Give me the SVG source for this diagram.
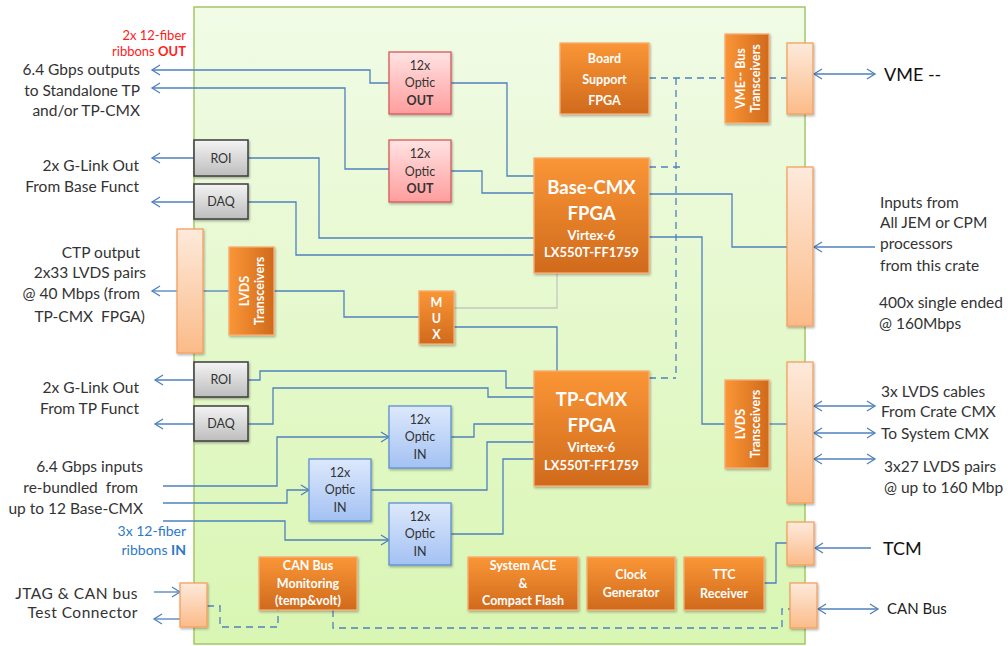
<svg xmlns="http://www.w3.org/2000/svg" width="1008" height="646" viewBox="0 0 1008 646">
<defs>
<linearGradient id="gBoard" x1="0" y1="0" x2="0" y2="1"><stop offset="0" stop-color="#f1fbe6"/><stop offset="1" stop-color="#d9f6b3"/></linearGradient>
<linearGradient id="gOr" x1="0" y1="0" x2="0" y2="1"><stop offset="0" stop-color="#fa9636"/><stop offset="1" stop-color="#d06a1d"/></linearGradient>
<linearGradient id="gOrH" x1="0" y1="0" x2="1" y2="0"><stop offset="0" stop-color="#fa9636"/><stop offset="1" stop-color="#d06a1d"/></linearGradient>
<linearGradient id="gPeach" x1="0" y1="0" x2="0" y2="1"><stop offset="0" stop-color="#fdeadb"/><stop offset="1" stop-color="#fbbb88"/></linearGradient>
<linearGradient id="gGray" x1="0" y1="0" x2="0" y2="1"><stop offset="0" stop-color="#f4f4f4"/><stop offset="1" stop-color="#bdbdbd"/></linearGradient>
<linearGradient id="gPink" x1="0" y1="0" x2="0" y2="1"><stop offset="0" stop-color="#ffe3e3"/><stop offset="1" stop-color="#ff9d9d"/></linearGradient>
<linearGradient id="gBlue" x1="0" y1="0" x2="0" y2="1"><stop offset="0" stop-color="#dde9fc"/><stop offset="1" stop-color="#a3c1f3"/></linearGradient>
<filter id="sh" x="-10%" y="-10%" width="130%" height="130%"><feDropShadow dx="1" dy="1.5" stdDeviation="1" flood-color="#000" flood-opacity="0.3"/></filter>
<marker id="ar" markerWidth="12" markerHeight="12" refX="9" refY="6" orient="auto-start-reverse" markerUnits="userSpaceOnUse"><path d="M1,1 L9,6 L1,11" fill="none" stroke="#4f81bd" stroke-width="1.3"/></marker>
</defs>
<style>
.bd{fill:url(#gBoard);stroke:#a4c866;stroke-width:1.5}
.ob{fill:url(#gOr);stroke:#f8ad72;stroke-width:1.3;filter:url(#sh)}
.obh{fill:url(#gOrH);stroke:#f8ad72;stroke-width:1.3;filter:url(#sh)}
.pc{fill:url(#gPeach);stroke:#f5a062;stroke-width:1.3;filter:url(#sh)}
.gy{fill:url(#gGray);stroke:#3c3c3c;stroke-width:1.5;filter:url(#sh)}
.pk{fill:url(#gPink);stroke:#d65a5a;stroke-width:1.3;filter:url(#sh)}
.bl{fill:url(#gBlue);stroke:#5f8fd3;stroke-width:1.3;filter:url(#sh)}
text{font-family:Lato,"Open Sans","Liberation Sans",sans-serif}
.w{fill:#fff;font-weight:bold;text-anchor:middle;font-size:12.5px}
.d{fill:#333;text-anchor:middle;font-size:12.5px}
.lab{fill:#333;font-size:15.5px}
.e{text-anchor:end}
.ln{fill:none;stroke:#4f81bd;stroke-width:1.3}
.ds{fill:none;stroke:#4f81bd;stroke-width:1.3;stroke-dasharray:7,5}
</style>
<rect class="bd" x="194" y="7" width="611" height="637"/>

<g id="connectors">
<path class="ln" d="M389,83 H370 V70 H152" marker-end="url(#ar)"/>
<path class="ln" d="M389,169 H345 V88 H152" marker-end="url(#ar)"/>
<path class="ln" d="M451,83 H507 V176 H534"/>
<path class="ln" d="M451,171 H482 V193 H534"/>
<path class="ln" d="M194,158 H152" marker-end="url(#ar)"/>
<path class="ln" d="M194,202 H152" marker-end="url(#ar)"/>
<path class="ln" d="M248,158 H319 V238 H534"/>
<path class="ln" d="M248,202 H296 V255 H534"/>
<path class="ln" d="M177,291 H152" marker-end="url(#ar)"/>
<path class="ln" d="M203,291 H229"/>
<path class="ln" d="M274,291 H344 V317 H419"/>
<path fill="none" stroke="#c4c8c0" stroke-width="1.3" d="M454,308 H557 V273"/>
<path class="ln" d="M454,327 H557 V371"/>
<path class="ln" d="M194,380 H155" marker-end="url(#ar)"/>
<path class="ln" d="M194,424 H155" marker-end="url(#ar)"/>
<path class="ln" d="M248,380 H260 V371 H506 V388 H534"/>
<path class="ln" d="M248,424 H273 V388 H488 V397 H534"/>
<path class="ln" d="M163,486 H277 V437 H389" marker-end="url(#ar)"/>
<path class="ln" d="M163,503 H287 V490 H309" marker-end="url(#ar)"/>
<path class="ln" d="M163,521 H285 V540 H389" marker-end="url(#ar)"/>
<path class="ln" d="M451,437 H474 V424 H534"/>
<path class="ln" d="M371,490 H487 V442 H534"/>
<path class="ln" d="M451,534 H503 V459 H534"/>
<path class="ln" d="M649,194 H732 V247 H787"/>
<path class="ln" d="M875,247 H814" marker-end="url(#ar)"/>
<path class="ln" d="M649,237 H702 V424 H725"/>
<path class="ln" d="M769,424 H787"/>
<path class="ln" d="M814,74 H875" marker-start="url(#ar)" marker-end="url(#ar)"/>
<path class="ln" d="M814,406 H875" marker-start="url(#ar)" marker-end="url(#ar)"/>
<path class="ln" d="M814,433 H875" marker-start="url(#ar)" marker-end="url(#ar)"/>
<path class="ln" d="M814,459 H875" marker-start="url(#ar)" marker-end="url(#ar)"/>
<path class="ln" d="M818,609 H878" marker-start="url(#ar)" marker-end="url(#ar)"/>
<path class="ln" d="M871,548 H815" marker-end="url(#ar)"/>
<path class="ln" d="M764,583 H776 V543 H787"/>
<path class="ln" d="M154,592 H180" marker-end="url(#ar)"/>
<path class="ln" d="M180,619 H154" marker-end="url(#ar)"/>
<path class="ds" d="M649,78 H725"/>
<path class="ds" d="M769,78 H787"/>
<path class="ds" d="M676,78 V378"/>
<path class="ds" d="M649,167 H680"/>
<path class="ds" d="M649,378 H676"/>
<path class="ds" d="M207,606 H220 V627 H278 V610"/>
<path class="ds" d="M333,610 V628 H782 V609 H790"/>
</g>

<g id="roi1"><rect class="gy" x="194" y="140" width="54" height="36"/><text class="d" x="221" y="162.5">ROI</text></g>
<g id="daq1"><rect class="gy" x="194" y="184" width="54" height="35"/><text class="d" x="221" y="206">DAQ</text></g>
<g id="roi2"><rect class="gy" x="194" y="362" width="54" height="35"/><text class="d" x="221" y="384">ROI</text></g>
<g id="daq2"><rect class="gy" x="194" y="406" width="54" height="35"/><text class="d" x="221" y="428">DAQ</text></g>

<g id="ctp-conn"><rect class="pc" x="177" y="229" width="26" height="124"/></g>
<g id="lvds-left"><rect class="obh" x="229" y="247" width="45" height="88"/>
<text class="w" font-size="11" transform="translate(251.5,291) rotate(-90)"><tspan x="0" y="-3">LVDS</tspan><tspan x="0" y="12">Transceivers</tspan></text></g>
<g id="mux"><rect class="ob" x="419" y="291" width="35" height="53"/>
<text class="w" font-size="13.5"><tspan x="436.5" y="307">M</tspan><tspan x="436.5" y="323">U</tspan><tspan x="436.5" y="339">X</tspan></text></g>

<g id="optic-out1"><rect class="pk" x="389" y="52" width="62" height="62"/>
<text class="d"><tspan x="420" y="69.5">12x</tspan><tspan x="420" y="87">Optic</tspan><tspan x="420" y="104.5" font-weight="bold">OUT</tspan></text></g>
<g id="optic-out2"><rect class="pk" x="389" y="140" width="62" height="62"/>
<text class="d"><tspan x="420" y="158">12x</tspan><tspan x="420" y="175.5">Optic</tspan><tspan x="420" y="193" font-weight="bold">OUT</tspan></text></g>

<g id="board-support"><rect class="ob" x="560" y="43" width="89" height="71"/>
<text class="w" font-size="15.5"><tspan x="604.5" y="62.5">Board</tspan><tspan x="604.5" y="84">Support</tspan><tspan x="604.5" y="104.5">FPGA</tspan></text></g>

<g id="base-cmx"><rect class="ob" x="534" y="158" width="115" height="115"/>
<text class="w" font-weight="normal"><tspan x="591.5" y="193.5" font-size="18.5">Base-CMX</tspan><tspan x="591.5" y="219.5" font-size="18.5">FPGA</tspan><tspan x="591.5" y="239.5" font-size="13" font-weight="bold">Virtex-6</tspan><tspan x="591.5" y="256.5" font-size="13" font-weight="bold">LX550T-FF1759</tspan></text></g>

<g id="tp-cmx"><rect class="ob" x="534" y="371" width="115" height="115"/>
<text class="w" font-weight="normal"><tspan x="591.5" y="405.5" font-size="18.5">TP-CMX</tspan><tspan x="591.5" y="431.5" font-size="18.5">FPGA</tspan><tspan x="591.5" y="452" font-size="13" font-weight="bold">Virtex-6</tspan><tspan x="591.5" y="469.5" font-size="13" font-weight="bold">LX550T-FF1759</tspan></text></g>

<g id="vme-bus"><rect class="obh" x="725" y="34" width="44" height="89"/>
<text class="w" font-size="11" transform="translate(748,78.5) rotate(-90)"><tspan x="0" y="-3">VME-- Bus</tspan><tspan x="0" y="12">Transceivers</tspan></text></g>
<g id="vme-conn"><rect class="pc" x="787" y="43" width="26" height="71"/></g>
<g id="inputs-conn"><rect class="pc" x="787" y="167" width="26" height="159"/></g>
<g id="lvds-right"><rect class="obh" x="725" y="380" width="44" height="88"/>
<text class="w" font-size="11" transform="translate(747.5,424) rotate(-90)"><tspan x="0" y="-3">LVDS</tspan><tspan x="0" y="12">Transceivers</tspan></text></g>
<g id="lvds-conn"><rect class="pc" x="787" y="362" width="26" height="141"/></g>
<g id="tcm-conn"><rect class="pc" x="787" y="522" width="27" height="43"/></g>
<g id="can-conn"><rect class="pc" x="790" y="583" width="27" height="45"/></g>
<g id="jtag-conn"><rect class="pc" x="180" y="583" width="27" height="44"/></g>

<g id="optic-in-a"><rect class="bl" x="389" y="406" width="62" height="62"/>
<text class="d"><tspan x="420" y="423.5">12x</tspan><tspan x="420" y="441">Optic</tspan><tspan x="420" y="458.5">IN</tspan></text></g>
<g id="optic-in-b"><rect class="bl" x="309" y="459" width="62" height="62"/>
<text class="d"><tspan x="340" y="476.5">12x</tspan><tspan x="340" y="494">Optic</tspan><tspan x="340" y="511.5">IN</tspan></text></g>
<g id="optic-in-c"><rect class="bl" x="389" y="503" width="62" height="62"/>
<text class="d"><tspan x="420" y="520.5">12x</tspan><tspan x="420" y="538">Optic</tspan><tspan x="420" y="555.5">IN</tspan></text></g>

<g id="can-monitor"><rect class="ob" x="259" y="557" width="98" height="53"/>
<text class="w" font-size="12"><tspan x="308" y="569.5">CAN Bus</tspan><tspan x="308" y="587.5">Monitoring</tspan><tspan x="308" y="605">(temp&amp;volt)</tspan></text></g>
<g id="system-ace"><rect class="ob" x="468" y="557" width="110" height="53"/>
<text class="w" font-size="12"><tspan x="523" y="569.5">System ACE</tspan><tspan x="523" y="587.5">&amp;</tspan><tspan x="523" y="605">Compact Flash</tspan></text></g>
<g id="clock"><rect class="ob" x="587" y="557" width="88" height="53"/>
<text class="w" font-size="13.5"><tspan x="631" y="578.5">Clock</tspan><tspan x="631" y="597">Generator</tspan></text></g>
<g id="ttc"><rect class="ob" x="684" y="557" width="80" height="53"/>
<text class="w" font-size="15"><tspan x="724" y="578.5">TTC</tspan><tspan x="724" y="597.5">Receiver</tspan></text></g>

<g id="labels-left">
<text class="e" x="186" y="39.5" font-size="13" fill="#ff2020">2x 12-fiber</text>
<text class="e" x="186" y="56" font-size="13" fill="#ff2020">ribbons <tspan font-weight="bold">OUT</tspan></text>
<text class="lab e" x="140" y="75">6.4 Gbps outputs</text>
<text class="lab e" x="140" y="95.5">to Standalone TP</text>
<text class="lab e" x="140" y="116">and/or TP-CMX</text>
<text class="lab e" x="139" y="170.5">2x G-Link Out</text>
<text class="lab e" x="139" y="191.5">From Base Funct</text>
<text class="lab e" x="140" y="257.5">CTP output</text>
<text class="lab e" x="146" y="278">2x33 LVDS pairs</text>
<text class="lab e" x="140" y="299">@ 40 Mbps (from</text>
<text class="lab e" x="145" y="321.5" xml:space="preserve">TP-CMX  FPGA)</text>
<text class="lab e" x="139" y="392.5">2x G-Link Out</text>
<text class="lab e" x="139" y="413.5">From TP Funct</text>
<text class="lab e" x="143" y="471.5" font-size="16.5">6.4 Gbps inputs</text>
<text class="lab e" x="138" y="492.5" font-size="16.5" xml:space="preserve">re-bundled  from</text>
<text class="lab e" x="143" y="513.5" font-size="16.5">up to 12 Base-CMX</text>
<text class="e" x="186" y="536" font-size="14" fill="#2e78c8">3x 12-fiber</text>
<text class="e" x="186" y="555" font-size="14" fill="#2e78c8">ribbons <tspan font-weight="bold">IN</tspan></text>
<text class="lab e" x="138" y="598.5" font-size="16" letter-spacing="0.5">JTAG &amp; CAN bus</text>
<text class="lab e" x="138" y="617.5" font-size="16" letter-spacing="0.5">Test Connector</text>
</g>

<g id="labels-right">
<text x="884" y="80.5" font-size="18" fill="#111">VME --</text>
<text class="lab" x="880" y="207.5">Inputs from</text>
<text class="lab" x="880" y="228">All JEM or CPM</text>
<text class="lab" x="880" y="249">processors</text>
<text class="lab" x="880" y="270.5">from this crate</text>
<text class="lab" x="879" y="307.5">400x single ended</text>
<text class="lab" x="879" y="328.5">@ 160Mbps</text>
<text class="lab" x="881" y="396.5">3x LVDS cables</text>
<text class="lab" x="881" y="417">From Crate CMX</text>
<text class="lab" x="881" y="438.5">To System CMX</text>
<text class="lab" x="884" y="471.5">3x27 LVDS pairs</text>
<text class="lab" x="884" y="492.5">@ up to 160 Mbp</text>
<text x="883" y="554.5" font-size="18" fill="#111">TCM</text>
<text x="887" y="614" font-size="15" fill="#222">CAN Bus</text>
</g>
</svg>
